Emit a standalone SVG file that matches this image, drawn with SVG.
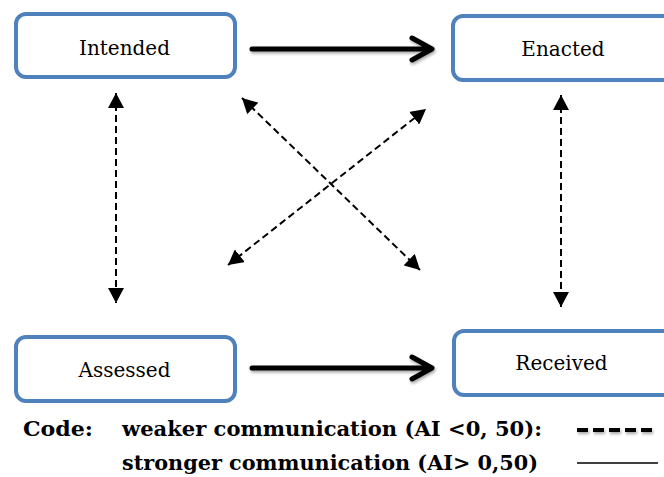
<svg xmlns="http://www.w3.org/2000/svg" width="664" height="477" viewBox="0 0 664 477">
<style>
.box{fill:#fff;stroke:#4F81BD;stroke-width:4}
.lbl{font-family:"DejaVu Serif","Liberation Serif",serif;font-size:20px;fill:#000;text-anchor:middle}
.leg{font-family:"DejaVu Serif","Liberation Serif",serif;font-size:20px;font-weight:bold;fill:#000}
.thick{fill:none;stroke:#000;stroke-width:5;stroke-linecap:round;stroke-linejoin:round}
.dash{fill:none;stroke:#000;stroke-width:2;stroke-dasharray:7 4}
</style>
<defs>
<filter id="sh" x="-10%" y="-50%" width="120%" height="200%">
<feDropShadow dx="1" dy="2" stdDeviation="1.5" flood-color="#000" flood-opacity="0.35"/>
</filter>
<filter id="sh2" filterUnits="userSpaceOnUse" x="565" y="418" width="99" height="26">
<feDropShadow dx="1" dy="2" stdDeviation="1.5" flood-color="#000" flood-opacity="0.35"/>
</filter>
<marker id="tri" markerUnits="userSpaceOnUse" markerWidth="16" markerHeight="16" viewBox="0 0 16 16" refX="15" refY="8" orient="auto-start-reverse">
<path d="M0,0 L15,8 L0,16 Z" fill="#000"/>
</marker>
</defs>
<g id="intended"><rect class="box" x="16" y="14" width="219" height="63" rx="10"/><text class="lbl" x="124.5" y="55">Intended</text></g>
<g id="enacted"><rect class="box" x="453" y="16" width="222" height="64" rx="10"/><text class="lbl" x="563" y="56">Enacted</text></g>
<g id="assessed"><rect class="box" x="16" y="337" width="219" height="64" rx="10"/><text class="lbl" x="124.5" y="377">Assessed</text></g>
<g id="received"><rect class="box" x="454" y="331" width="222" height="64" rx="10"/><text class="lbl" x="561.5" y="370">Received</text></g>
<g id="connectors">
<g filter="url(#sh)">
<path class="thick" d="M252,49 L431,49 M412,38 L432,49 L412,60"/>
<path class="thick" d="M252,368 L431,368 M412,357 L432,368 L412,379"/>
</g>
<line class="dash" x1="116" y1="93" x2="116" y2="303" marker-start="url(#tri)" marker-end="url(#tri)"/>
<line class="dash" x1="561" y1="95" x2="561" y2="307" marker-start="url(#tri)" marker-end="url(#tri)"/>
<line class="dash" x1="242" y1="98" x2="420" y2="270" marker-start="url(#tri)" marker-end="url(#tri)"/>
<line class="dash" x1="228" y1="265" x2="426" y2="109" marker-start="url(#tri)" marker-end="url(#tri)"/>
</g>
<g id="legend">
<text class="leg" x="23" y="436" textLength="70" lengthAdjust="spacingAndGlyphs">Code:</text>
<text class="leg" x="122" y="436" textLength="420" lengthAdjust="spacingAndGlyphs">weaker communication (AI &lt;0, 50):</text>
<text class="leg" x="122" y="470" textLength="416" lengthAdjust="spacingAndGlyphs">stronger communication (AI&gt; 0,50)</text>
<path d="M577,430 H653" stroke="#000" stroke-width="4" stroke-dasharray="11 5" fill="none" filter="url(#sh2)"/>
<line x1="577" y1="463" x2="658" y2="463" stroke="#000" stroke-width="1.5"/>
</g>
</svg>
